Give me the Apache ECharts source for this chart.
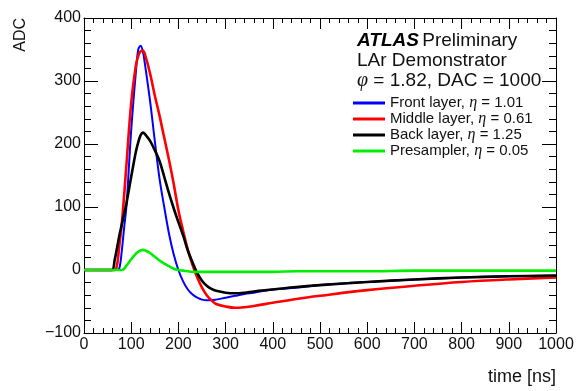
<!DOCTYPE html>
<html>
<head>
<meta charset="utf-8">
<script src="https://cdn.jsdelivr.net/npm/echarts@6/dist/echarts.min.js"></script>
<style>html,body{margin:0;padding:0;background:#fff}#c{width:577px;height:391px}</style>
</head>
<body>
<div id="c"></div>
<script>
// time samples [ns]
const times = [0, 50, 60, 65, 70, 75, 80, 85, 90, 100, 110, 115, 120, 125, 130, 140, 150, 160, 170, 180, 190, 200, 210, 220, 230, 240, 250, 260, 270, 280, 300, 320, 340, 360, 400, 450, 500, 600, 700, 800, 900, 1000];
// ADC values per layer
const frontLayer = [0, 0, 0, 0, 0, 3, 30, 67, 102, 222, 315, 350, 356, 346, 322, 268, 205, 145, 100, 58, 25, 0, -18, -31, -39, -44, -47, -48, -48, -47, -44, -41, -38, -36, -31, -28, -24, -19, -15, -12, -10, -9];
const middleLayer = [0, 0, 0, 0, 8, 40, 73, 118, 168, 265, 325, 340, 347, 348, 340, 312, 277, 245, 210, 175, 137, 95, 62, 32, 8, -12, -28, -40, -48, -54, -58, -60, -59, -57, -52, -46, -41, -32, -25, -19, -15, -12];
const backLayer = [0, 0, 0, 16, 35, 55, 72, 89, 106, 148, 188, 203, 214, 218, 215, 205, 190, 173, 148, 122, 98, 76, 55, 31, 12, -5, -17, -25, -30, -33, -36, -37, -36, -34, -31, -27, -24, -19, -15, -12, -10, -9];
const presampler = [0, 0, 0, 0, 0, 0, 0, 2, 7, 17, 26, 29, 31, 32, 31, 27, 21, 15, 10, 6, 2, 0, -1, -2, -3, -3, -3, -3, -3, -3, -3, -3, -3, -3, -3, -2, -2, -2, -1, -1, -1, -1];
const seriesNames = ['Front layer, η = 1.01', 'Middle layer, η = 0.61', 'Back layer, η = 1.25', 'Presampler, η = 0.05'];
const seriesColors = ['#0000ff', '#ff0000', '#000000', '#00ee00'];
const seriesValues = [frontLayer, middleLayer, backLayer, presampler];
const xTicks = {min: 0, max: 1000, interval: 100};
const yTicks = {min: -100, max: 400, interval: 100};

const FONT = 'Liberation Sans, Arial, Helvetica, sans-serif';
const chart = echarts.init(document.getElementById('c'), null, {renderer: 'canvas'});

function axisBase(pos, show, tickLen, minorLen) {
  return {
    type: 'value', position: pos,
    axisLine: {show: true, onZero: false, lineStyle: {color: '#000', width: 1}},
    axisTick: {show: true, inside: true, length: tickLen, lineStyle: {color: '#000', width: 1, opacity: 1}},
    minorTick: {show: true, splitNumber: 5, length: minorLen, lineStyle: {color: '#000', width: 1, opacity: 1}},
    splitLine: {show: false},
    axisLabel: {show: show, color: '#111', fontSize: 16, fontFamily: FONT, formatter: v => v < 0 ? '\u2212' + Math.abs(v) : String(v)}
  };
}

const xa0 = Object.assign(axisBase('bottom', true, 11, 5), xTicks);
xa0.axisLabel.margin = 4;
const xa1 = Object.assign(axisBase('top', false, 11, 5), xTicks);
const ya0 = Object.assign(axisBase('left', true, 14, 7), yTicks);
ya0.axisLabel.margin = 3;
const ya1 = Object.assign(axisBase('right', false, 14, 7), yTicks);

const series = seriesNames.map((n, i) => ({
  name: n, type: 'line', xAxisIndex: 0, yAxisIndex: 0,
  data: times.map((t, k) => [t, seriesValues[i][k]]),
  showSymbol: false, symbol: 'none', smooth: 0.35,
  lineStyle: {color: seriesColors[i], width: i === 0 ? 2 : 2.6},
  itemStyle: {color: seriesColors[i]},
  z: 2 + i
}));

chart.setOption({
  animation: false,
  backgroundColor: '#fff',
  grid: {left: 84, right: 21, top: 18, bottom: 58},
  xAxis: [xa0, xa1],
  yAxis: [ya0, ya1],
  legend: {
    left: 353, top: 95, orient: 'vertical', itemGap: 0, padding: 0,
    icon: 'rect', itemWidth: 32, itemHeight: 3,
    data: seriesNames,
    formatter: n => n.replace('η', '{e|η}'),
    textStyle: {fontSize: 15, fontFamily: FONT, color: '#111', lineHeight: 16,
      rich: {e: {fontSize: 16, fontStyle: 'italic', fontFamily: 'Liberation Serif, serif', lineHeight: 16}}}
  },
  graphic: [
    {type: 'text', left: 357, top: 31, style: {
      text: '{b|ATLAS} {n|Preliminary}',
      rich: {b: {fontSize: 19, fontWeight: 'bold', fontStyle: 'italic', fontFamily: FONT, fill: '#000'},
             n: {fontSize: 19, fontFamily: FONT, fill: '#111'}}}},
    {type: 'text', left: 357, top: 51, style: {text: 'LAr Demonstrator', fontSize: 19, fontFamily: FONT, fill: '#111'}},
    {type: 'text', left: 357, top: 71, style: {
      text: '{p|φ} = 1.82, DAC = 1000',
      fontSize: 19, fontFamily: FONT, fill: '#111',
      rich: {p: {fontSize: 20, fontStyle: 'italic', fontFamily: 'Liberation Serif, serif', fill: '#111'}}}},
    {type: 'text', left: 13, top: 18, style: {text: 'ADC', fontSize: 16, fontFamily: FONT, fill: '#111'},
      rotation: Math.PI / 2, originX: 0, originY: 0},
    {type: 'text', right: 21, top: 368, style: {text: 'time [ns]', fontSize: 18, fontFamily: FONT, fill: '#111'}}
  ],
  series: series
});
</script>
</body>
</html>
